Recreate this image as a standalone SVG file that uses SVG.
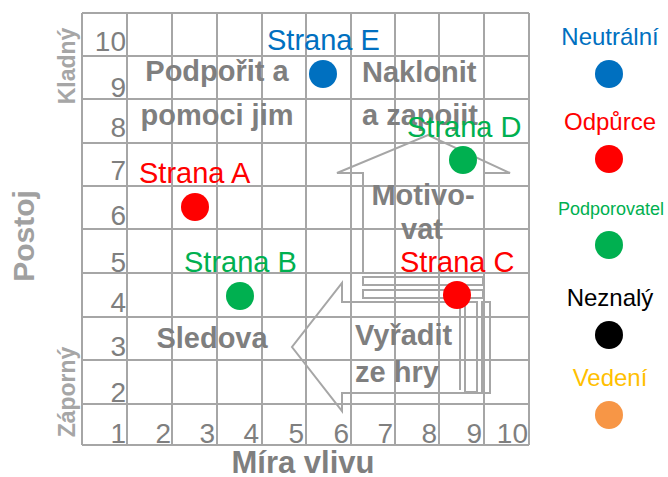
<svg xmlns="http://www.w3.org/2000/svg" width="668" height="477" viewBox="0 0 668 477">
<style>
.grid{stroke:#a6a6a6;stroke-width:2;fill:none}
.arr{stroke:#a6a6a6;stroke-width:2;fill:none}
.num{font-family:"Liberation Sans",Arial,sans-serif;font-size:28px;fill:#7f7f7f;text-anchor:end}
.bold{font-family:"Liberation Sans",Arial,sans-serif;font-size:29px;font-weight:bold;fill:#7f7f7f}
.lbl{font-family:"Liberation Sans",Arial,sans-serif;font-size:29px}
.leg{font-family:"Liberation Sans",Arial,sans-serif;font-size:24px;text-anchor:middle}
.leg-s{font-family:"Liberation Sans",Arial,sans-serif;font-size:18px;text-anchor:middle}
.ax{font-family:"Liberation Sans",Arial,sans-serif;font-weight:bold;text-anchor:middle}
</style>
<rect width="668" height="477" fill="#fff"/>
<g id="grid">
<path class="grid" d="M82,13V445M127,13V445M172,13V445M217,13V445M262,13V445M306,13V445M351,13V445M395,13V445M439,13V445M484,13V445M529,13V445M82,13H529M82,56H529M82,99H529M82,143H529M82,186H529M82,229H529M82,273H529M82,317H529M82,360H529M82,404H529M82,445H529"/>
<text class="num" x="126" y="51">10</text>
<text class="num" x="126" y="97">9</text>
<text class="num" x="126" y="137">8</text>
<text class="num" x="126" y="180">7</text>
<text class="num" x="126" y="225">6</text>
<text class="num" x="126" y="272">5</text>
<text class="num" x="126" y="312">4</text>
<text class="num" x="126" y="356">3</text>
<text class="num" x="126" y="402">2</text>
<text class="num" x="126" y="443">1</text>
<text class="num" x="171" y="443">2</text>
<text class="num" x="215" y="443">3</text>
<text class="num" x="259" y="443">4</text>
<text class="num" x="304" y="443">5</text>
<text class="num" x="349" y="443">6</text>
<text class="num" x="393" y="443">7</text>
<text class="num" x="437" y="443">8</text>
<text class="num" x="482" y="443">9</text>
<text class="num" x="528" y="443">10</text>
</g>
<g id="axes">
<text class="ax" style="font-size:30px" fill="#a0a0a0" transform="translate(33.5,236) rotate(-90)">Postoj</text>
<text class="ax" style="font-size:23px" fill="#a6a6a6" transform="translate(75,66) rotate(-90)">Kladný</text>
<text class="ax" style="font-size:23px" fill="#a6a6a6" transform="translate(75,392) rotate(-90)">Záporný</text>
<text class="ax" style="font-size:31px" fill="#7f7f7f" x="303" y="473">Míra vlivu</text>
</g>
<g id="connectors">
<path class="arr" d="M363,273V173H337L428,135L510,173H484V273Z"/>
<rect class="arr" x="363" y="277" width="120" height="8"/>
<rect class="arr" x="363" y="290" width="120" height="8"/>
<path class="arr" d="M460,302H342V283L292,347L342,411V393H490V302H482"/>
<path class="arr" d="M460,302V390"/>
<rect class="arr" x="465" y="302" width="12" height="90"/>
<rect class="arr" x="482" y="302" width="8" height="91"/>
</g>
<g id="quadrant-labels">
<text class="bold" x="217" y="81" text-anchor="middle">Podpořit a</text>
<text class="bold" x="217" y="125" text-anchor="middle">pomoci jim</text>
<text class="bold" x="362" y="82">Naklonit</text>
<text class="bold" x="362" y="125">a zapojit</text>
<text class="bold" x="423" y="205" text-anchor="middle">Motivo-</text>
<text class="bold" x="422" y="239" text-anchor="middle">vat</text>
<text class="bold" x="212" y="348" text-anchor="middle">Sledova</text>
<text class="bold" x="355" y="345">Vyřadit</text>
<text class="bold" x="355" y="382">ze hry</text>
</g>
<g id="strana-e">
<text class="lbl" x="267" y="50" fill="#0070c0">Strana E</text>
<circle cx="323" cy="74" r="14" fill="#0070c0"/>
</g>
<g id="strana-a">
<text class="lbl" x="139" y="183" fill="#ff0000">Strana A</text>
<circle cx="195" cy="207" r="14" fill="#ff0000"/>
</g>
<g id="strana-d">
<text class="lbl" x="407" y="137" fill="#00b050">Strana D</text>
<circle cx="463" cy="160" r="14" fill="#00b050"/>
</g>
<g id="strana-b">
<text class="lbl" x="184" y="272" fill="#00b050">Strana B</text>
<circle cx="240" cy="296" r="14" fill="#00b050"/>
</g>
<g id="strana-c">
<text class="lbl" x="400" y="272" fill="#ff0000">Strana C</text>
<circle cx="457" cy="295" r="14" fill="#ff0000"/>
</g>
<g id="legend">
<text class="leg" x="610" y="45" fill="#0070c0">Neutrální</text>
<circle cx="609" cy="74" r="14" fill="#0070c0"/>
<text class="leg" x="610" y="130" fill="#ff0000">Odpůrce</text>
<circle cx="609" cy="159" r="14" fill="#ff0000"/>
<text class="leg-s" x="611" y="215" fill="#00b050">Podporovatel</text>
<circle cx="609" cy="245" r="14" fill="#00b050"/>
<text class="leg" x="610" y="306" fill="#000">Neznalý</text>
<circle cx="609" cy="335" r="14" fill="#000"/>
<text class="leg" x="610" y="386" fill="#ffc000">Vedení</text>
<circle cx="609" cy="415" r="14" fill="#f79646"/>
</g>
</svg>
